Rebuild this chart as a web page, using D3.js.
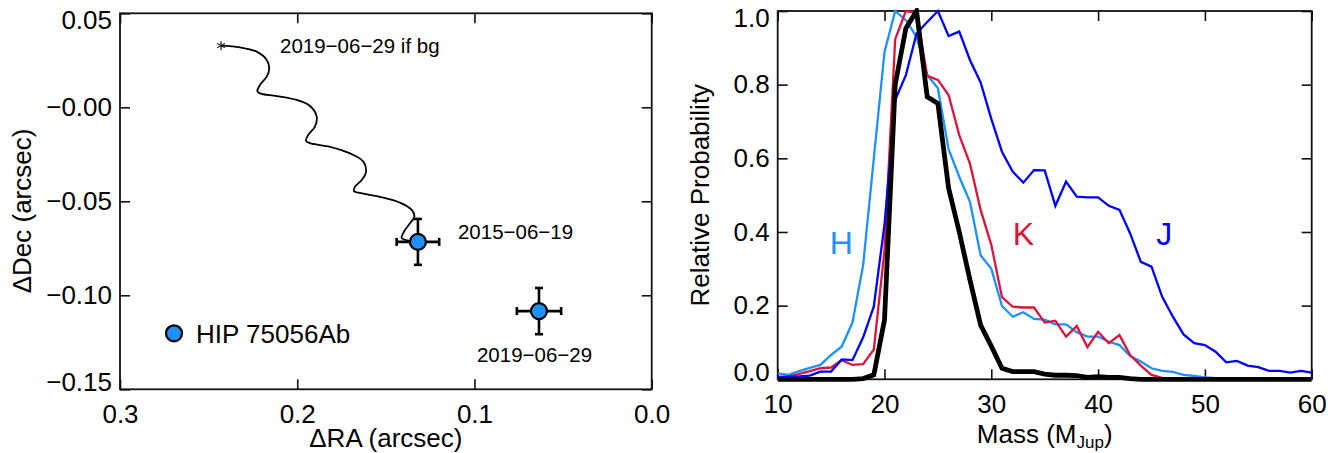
<!DOCTYPE html>
<html><head><meta charset="utf-8">
<script src="https://cdn.jsdelivr.net/npm/d3@7"></script>
<style>
body{margin:0;background:#fff;}
svg{display:block;font-family:"Liberation Sans",Arial,Helvetica,sans-serif;}
</style></head>
<body><svg id="c" width="1338" height="453"></svg>
<script>
// ---------- Left panel data ----------
const trackRA  = [0.2430,0.2323,0.2229,0.2172,0.2158,0.2172,0.2210,0.2225,0.2210,0.2116,0.2003,0.1928,0.1890,0.1900,0.1938,0.1951,0.1928,0.1815,0.1702,0.1627,0.1612,0.1636,0.1674,0.1680,0.1655,0.1533,0.1420,0.1354,0.1339,0.1364,0.1398,0.1411,0.1364];
const trackDec = [0.0328,0.0319,0.0296,0.0252,0.0207,0.0163,0.0119,0.0087,0.0074,0.0060,0.0039,0.0007,-0.0050,-0.0103,-0.0147,-0.0178,-0.0191,-0.0210,-0.0245,-0.0289,-0.0343,-0.0387,-0.0422,-0.0445,-0.0454,-0.0476,-0.0507,-0.0546,-0.0582,-0.0617,-0.0662,-0.0695,-0.0711];
const bgRA = 0.2430, bgDec = 0.0328, bgLabel = "2019\u221206\u221229 if bg";
const obsRA  = [0.1319, 0.0636];
const obsDec = [-0.0716, -0.1084];
const obsErrRA  = [0.0120, 0.0125];
const obsErrDec = [0.0122, 0.0123];
const obsLabels = ["2015\u221206\u221219", "2019\u221206\u221229"];
const legendLabel = "HIP 75056Ab";
const raTicks  = [0.3, 0.2, 0.1, 0.0];
const decTicks = [0.05, 0.0, -0.05, -0.10, -0.15];
const decTickLabels = ["0.05", "\u22120.00", "\u22120.05", "\u22120.10", "\u22120.15"];

// ---------- Right panel data ----------
const mass = [10,11,12,13,14,15,16,17,18,19,20,21,22,23,24,25,26,27,28,29,30,31,32,33,34,35,36,37,38,39,40,41,42,43,44,45,46,47,48,49,50,51,52,53,54,55,56,57,58,59,60];
const probH = [0.016,0.012,0.022,0.031,0.039,0.066,0.089,0.154,0.31,0.60,0.889,1.0,0.975,0.93,0.826,0.79,0.625,0.55,0.482,0.337,0.30,0.199,0.17,0.182,0.164,0.162,0.149,0.149,0.128,0.116,0.116,0.102,0.093,0.063,0.048,0.03,0.023,0.02,0.012,0.009,0.005,0.003,0.002,0.001,0,0,0,0,0,0,0];
const probK = [0.007,0.007,0.015,0.022,0.030,0.032,0.052,0.039,0.041,0.081,0.35,0.923,1.0,0.995,0.824,0.813,0.772,0.663,0.586,0.46,0.365,0.223,0.197,0.195,0.195,0.154,0.159,0.116,0.145,0.087,0.129,0.098,0.12,0.066,0.037,0.012,0.004,0.003,0,0,0,0,0,0,0,0,0,0,0,0,0];
const probJ = [0.005,0.007,0.008,0.01,0.021,0.021,0.054,0.052,0.114,0.198,0.42,0.758,0.826,0.939,0.97,1.0,0.932,0.944,0.867,0.806,0.707,0.618,0.564,0.534,0.568,0.567,0.471,0.537,0.496,0.494,0.494,0.471,0.46,0.396,0.319,0.306,0.224,0.17,0.122,0.098,0.093,0.075,0.046,0.05,0.037,0.033,0.023,0.023,0.018,0.023,0.018];
const probAll = [0,0,0,0,0,0,0,0,0.002,0.012,0.161,0.80,0.953,1.0,0.767,0.749,0.519,0.40,0.27,0.147,0.09,0.03,0.021,0.021,0.021,0.014,0.011,0.011,0.01,0.005,0.007,0.005,0.005,0.002,0,0,0,0,0,0,0,0,0,0,0,0,0,0,0,0,0];
const massTicks = [10,20,30,40,50,60];
const probTicks = [0.0,0.2,0.4,0.6,0.8,1.0];
const bandNames  = ["H","K","J"];

const svg = d3.select("#c");
const FS = 26;

function frameAxes(g, x, y, W, H, xMaj, xMin, yMaj, yMin, xFmt, yFmt) {
  const majLen = 10, minLen = 5;
  const b = g.append("g").attr("transform", `translate(0,${H})`);
  b.call(d3.axisBottom(x).tickValues(xMin).tickSize(-minLen).tickFormat(""));
  b.call(d3.axisBottom(x).tickValues(xMaj).tickSize(-majLen).tickPadding(15).tickFormat(xFmt));
  const t = g.append("g");
  t.call(d3.axisTop(x).tickValues(xMin).tickSize(-minLen).tickFormat(""));
  t.call(d3.axisTop(x).tickValues(xMaj).tickSize(-majLen).tickFormat(""));
  const l = g.append("g");
  l.call(d3.axisLeft(y).tickValues(yMin).tickSize(-minLen).tickFormat(""));
  l.call(d3.axisLeft(y).tickValues(yMaj).tickSize(-majLen).tickPadding(8).tickFormat(yFmt));
  const r = g.append("g").attr("transform", `translate(${W},0)`);
  r.call(d3.axisRight(y).tickValues(yMin).tickSize(-minLen).tickFormat(""));
  r.call(d3.axisRight(y).tickValues(yMaj).tickSize(-majLen).tickFormat(""));
  g.selectAll(".domain").remove();
  g.selectAll(".tick line").attr("stroke","#111").attr("stroke-width",1.6);
  g.selectAll(".tick text").attr("font-size",FS).attr("fill","#000")
    .attr("font-family",'"Liberation Sans",Arial,sans-serif');
  l.selectAll(".tick").each(function(d){
    const py = y(d), txt = d3.select(this).select("text");
    if (txt.empty() || txt.text()==="") return;
    if (Math.abs(py) < 1) txt.attr("y", 7);
    else if (Math.abs(py-H) < 1) txt.attr("y", -7);
  });
  g.append("rect").attr("width",W).attr("height",H).attr("fill","none")
    .attr("stroke","#111").attr("stroke-width",1.8);
}

// ================= LEFT PANEL =================
{
  const L = 120, T = 13.3, W = 531.7, H = 376;
  const g = svg.append("g").attr("transform",`translate(${L},${T})`);
  const x = d3.scaleLinear().domain([0.3,0.0]).range([0,W]);
  const y = d3.scaleLinear().domain([-0.15,0.05]).range([H,0]);
  const xMin = d3.range(0,31).map(i=>+(i*0.01).toFixed(2));
  const yMin = d3.range(-15,6).map(i=>+(i*0.01).toFixed(2));
  frameAxes(g, x, y, W, H, raTicks, xMin, decTicks, yMin,
    d => d3.format(".1f")(d),
    d => decTickLabels[decTicks.findIndex(v => Math.abs(v-d)<1e-9)]);

  const pts = trackRA.map((r,i)=>[x(r), y(trackDec[i])]);
  g.append("path").attr("d", d3.line().curve(d3.curveCatmullRom.alpha(0.5))(pts))
    .attr("fill","none").attr("stroke","#000").attr("stroke-width",1.8);
  const ax = x(bgRA), ay = y(bgDec), s = 4.5;
  for (let k=0;k<3;k++){
    const a = Math.PI/2 + k*Math.PI/3;
    g.append("line").attr("x1",ax-s*Math.cos(a)).attr("y1",ay-s*Math.sin(a))
      .attr("x2",ax+s*Math.cos(a)).attr("y2",ay+s*Math.sin(a))
      .attr("stroke","#000").attr("stroke-width",1.1);
  }
  g.append("text").attr("x", x(bgRA)+59).attr("y", y(bgDec)).attr("dy","0.35em")
    .attr("font-size",20.5).text(bgLabel);

  const cap = 4;
  obsRA.forEach((r,i)=>{
    const cx = x(r), cy = y(obsDec[i]);
    const x1 = x(r+obsErrRA[i]), x2 = x(r-obsErrRA[i]);
    const y1 = y(obsDec[i]+obsErrDec[i]), y2 = y(obsDec[i]-obsErrDec[i]);
    const eb = g.append("g").attr("stroke","#000").attr("stroke-width",2.6);
    eb.append("line").attr("x1",x1).attr("x2",x2).attr("y1",cy).attr("y2",cy);
    eb.append("line").attr("x1",cx).attr("x2",cx).attr("y1",y1).attr("y2",y2);
    eb.append("line").attr("x1",x1).attr("x2",x1).attr("y1",cy-cap).attr("y2",cy+cap);
    eb.append("line").attr("x1",x2).attr("x2",x2).attr("y1",cy-cap).attr("y2",cy+cap);
    eb.append("line").attr("x1",cx-cap).attr("x2",cx+cap).attr("y1",y1).attr("y2",y1);
    eb.append("line").attr("x1",cx-cap).attr("x2",cx+cap).attr("y1",y2).attr("y2",y2);
    g.append("circle").attr("cx",cx).attr("cy",cy).attr("r",8)
      .attr("fill","#1e90ff").attr("stroke","#000").attr("stroke-width",2.2);
  });
  g.append("text").attr("x", x(obsRA[0])+40).attr("y", y(obsDec[0])-10).attr("dy","0.35em")
    .attr("font-size",20.5).text(obsLabels[0]);
  g.append("text").attr("x", x(obsRA[1])-62).attr("y", y(obsDec[1])+44).attr("dy","0.35em")
    .attr("font-size",20.5).text(obsLabels[1]);

  g.append("circle").attr("cx",54).attr("cy",320).attr("r",8)
    .attr("fill","#1e90ff").attr("stroke","#000").attr("stroke-width",2.2);
  g.append("text").attr("x",76).attr("y",320).attr("dy","0.36em").attr("font-size",FS).text(legendLabel);

  svg.append("text").attr("x", L+W/2).attr("y", 447).attr("text-anchor","middle")
    .attr("font-size",FS).text("\u0394RA (arcsec)");
  svg.append("text").attr("transform",`translate(31,211) rotate(-90)`)
    .attr("text-anchor","middle").attr("font-size",FS).text("\u0394Dec (arcsec)");
}

// ================= RIGHT PANEL =================
{
  const L = 777.7, T = 11, W = 534, H = 368.3;
  const g = svg.append("g").attr("transform",`translate(${L},${T})`);
  const x = d3.scaleLinear().domain([10,60]).range([0,W]);
  const y = d3.scaleLinear().domain([0,1]).range([H,0]);
  const xMin = d3.range(10,61);
  const yMin = d3.range(0,21).map(i=>+(i*0.05).toFixed(2));
  frameAxes(g, x, y, W, H, massTicks, xMin, probTicks, yMin,
    d => String(d), d => d3.format(".1f")(d));

  g.append("clipPath").attr("id","cp").append("rect").attr("x",0).attr("y",-3).attr("width",W).attr("height",H+6);
  const line = (arr) => d3.line().x((d,i)=>x(mass[i])).y(d=>y(d))(arr);
  const series = [
    {v: probH, c: "#1e90ff", w: 2.3},
    {v: probK, c: "#dc143c", w: 2.3},
    {v: probJ, c: "#0000ff", w: 2.3},
    {v: probAll, c: "#000000", w: 4.8}
  ];
  const lg = g.append("g").attr("clip-path","url(#cp)");
  series.forEach(s => lg.append("path").attr("d", line(s.v)).attr("fill","none")
    .attr("stroke", s.c).attr("stroke-width", s.w).attr("stroke-linejoin","miter"));

  g.append("text").attr("x", x(15.95)).attr("y", y(0.34)).attr("text-anchor","middle")
    .attr("font-size",32).attr("fill","#1e90ff").text(bandNames[0]);
  g.append("text").attr("x", x(33.0)).attr("y", y(0.365)).attr("text-anchor","middle")
    .attr("font-size",32).attr("fill","#dc143c").text(bandNames[1]);
  g.append("text").attr("x", x(46.2)).attr("y", y(0.365)).attr("text-anchor","middle")
    .attr("font-size",32).attr("fill","#0000ff").text(bandNames[2]);

  const xt = svg.append("text").attr("x", L+W/2).attr("y", 443).attr("text-anchor","middle")
    .attr("font-size",FS);
  xt.append("tspan").text("Mass (M");
  xt.append("tspan").attr("font-size",17).attr("dy",5).text("Jup");
  xt.append("tspan").attr("dy",-5).text(")");
  svg.append("text").attr("transform",`translate(709,${T+H/2}) rotate(-90)`)
    .attr("text-anchor","middle").attr("font-size",FS).text("Relative Probability");
}
</script></body></html>
